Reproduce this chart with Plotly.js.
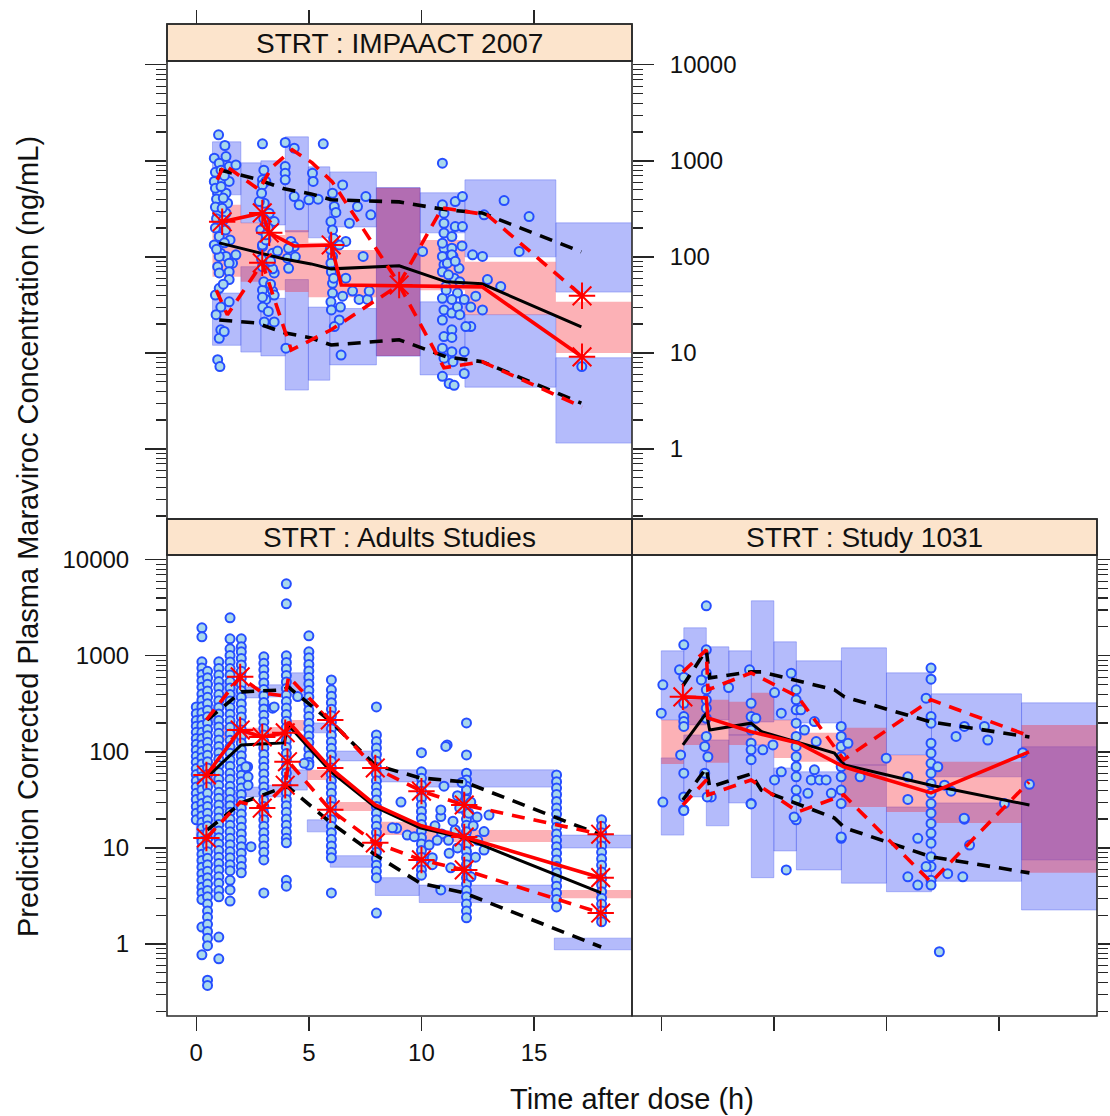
<!DOCTYPE html>
<html><head><meta charset="utf-8">
<script src="https://cdn.plot.ly/plotly-3.0.1.min.js"></script>
<style>body{margin:0;background:#fff}</style>
</head><body>
<div id="chart" style="width:1110px;height:1116px"></div>
<script>
// ---------------- Panel 1: STRT : IMPAACT 2007 ----------------
const impBinStart = [0.72, 1.98, 2.87, 3.95, 4.98, 5.93, 8.0, 9.94, 11.93, 15.97];
const impBinEnd   = [1.98, 2.87, 3.95, 4.98, 5.93, 8.0, 9.94, 11.93, 15.97, 19.4];
const impP95Lo = [443, 226, 215, 182, 158, 205, 9.3, 178, 100, 43];
const impP95Hi = [1578, 953, 1000, 1778, 866, 767, 524, 465, 634, 226];
const impMedLo = [62, 55, 45, 43, 38, 38, 9.3, 45, 25, 10];
const impMedHi = [348, 226, 169, 191, 140, 118, 524, 150, 89, 34];
const impP5Lo  = [12, 10.2, 9.3, 4.1, 5.2, 7.5, 9.3, 5.9, 4.4, 1.15];
const impP5Hi  = [42, 79, 37, 58, 30, 29, 524, 34, 25, 8.9];

const impSimX   = [1.02, 2.66, 3.91, 5.10, 5.99, 9.01, 11.1, 12.69, 17.1];
const impSimMed = [140, 113, 95, 84.5, 75, 80.6, 55, 52.4, 18.7];
const impSimP95 = [806, 649, 511, 453, 393, 374, 309, 287, 113];
const impSimP5  = [22, 20.5, 16.2, 14.3, 12.1, 13.7, 9.1, 8.1, 3.0];

const impObsMedX = [1.15, 2.93, 3.24, 4.35, 5.99, 6.44, 12.69, 17.13];
const impObsMed  = [232, 287, 178, 130, 133, 51, 48.7, 9.1];
const impObsP95X = [0.93, 1.24, 2.8, 3.33, 4.26, 5.15, 6.04, 9.01, 10.92, 12.92, 17.13];
const impObsP95  = [634, 908, 499, 845, 1303, 953, 604, 52.4, 324, 274, 39.3];
const impObsP5X  = [0.89, 1.38, 2.93, 4.22, 5.99, 9.01, 11.0, 12.69, 17.13];
const impObsP5   = [45, 24.9, 86.6, 10.7, 17.4, 51, 7.0, 8.1, 2.74];
const impStarX = [1.15, 2.93, 3.24, 5.99, 2.93, 9.01, 17.13, 17.13];
const impStarY = [232, 287, 178, 133, 86.6, 51, 39.3, 9.1];

const impX = [0.99,1.27,0.80,1.32,1.02,1.46,1.76,0.80,1.17,1.46,
  0.95,1.32,1.02,1.39,0.95,1.32,0.80,1.02,1.09,1.32,
  1.76,1.61,1.02,0.95,1.46,1.02,1.46,1.46,1.02,1.09,
  1.46,1.09,1.02,0.95,1.05,1.24,0.85,1.10,1.25,0.85,
  1.10,0.90,1.20,0.85,1.15,0.90,1.20,0.85,1.30,1.50,
  0.90,1.25,0.85,1.20,0.88,
  2.94,2.94,3.09,2.94,3.02,2.80,3.24,3.46,2.87,2.94,
  3.39,2.94,3.09,3.61,2.94,3.46,3.39,2.94,3.39,3.09,
  2.94,3.46,3.02,3.46,3.98,3.00,3.20,3.10,2.90,3.30,
  3.00,3.30,2.95,3.20,2.90,3.00,
  3.95,4.35,3.95,3.95,3.95,4.35,4.57,4.20,4.35,4.05,4.40,4.10,4.10,
  5.16,5.19,5.00,5.41,
  5.64,6.05,6.13,5.98,6.05,6.50,6.80,6.64,6.35,6.05,
  5.98,6.05,6.05,5.98,6.35,6.13,6.43,6.50,6.64,6.94,
  7.23,7.60,7.68,7.16,7.53,7.75,7.41,5.95,6.00,6.10,
  6.00,6.40,6.10,6.20,10.05,
  10.93,10.93,11.00,11.50,11.82,11.00,11.50,11.82,11.00,11.35,
  11.00,11.35,10.93,11.40,11.00,10.93,11.35,11.15,11.67,10.93,
  11.45,11.08,11.60,10.93,11.35,11.90,11.00,11.35,10.93,11.35,
  11.00,11.35,10.93,11.35,11.00,11.40,10.93,11.23,11.45,11.90,
  11.90,12.19,12.41,12.19,11.97,12.71,12.93,13.52,11.70,11.60,
  11.20,11.70,11.10,11.50,11.80,12.27,12.71,12.78,13.67,14.78,
  14.34,17.12];
const impY = [1866,1445,1067,1109,946,873,908,610,610,610,
  460,460,362,362,285,285,133,163,109,101,
  105,86,101,79,86,68,70,58,47,30,
  34,17.4,14.2,8.5,7.2,16.7,760,800,700,520,
  540,400,410,330,320,250,240,200,190,150,
  120,140,40,52,25,
  1503,634,610,562,362,377,285,233,191,128,
  109,133,150,115,79,68,75,45,44,36,
  38,40,21,21,11.2,250,200,170,95,90,
  55,52,30,27,460,800,
  1553,1355,873,745,634,425,348,145,128,97,100,123,76,
  745,610,393,399,
  1503,460,334,233,191,562,224,145,133,101,
  86,53,42,34,22,18.8,9.5,39,60,44,
  36,36,44,334,425,274,101,120,70,60,
  28,30,155,290,114,
  946,348,285,377,425,224,207,207,177,163,
  123,123,101,101,83,139,105,86,76,70,
  60,49,42,37,36,36,28,26,22,17.4,
  14.8,14.5,11.2,10.3,8.8,8.1,5.7,4.8,4.6,10.3,
  6.1,30,39,18.8,18.8,28,58,49,55,30,
  65,25,45,90,130,105,101,274,386,263,
  114,7.2];

// ---------------- Panel 2: STRT : Adults Studies ----------------
const adBinStart = [0, 1.0, 2.0, 2.93, 3.95, 4.93, 5.95, 7.95, 9.9, 15.9];
const adBinEnd   = [1.0, 2.0, 2.93, 3.95, 4.93, 5.95, 7.95, 9.9, 15.9, 19.4];
const adP95Lo = [191, 348, 365, 374, 393, 158, 80.6, 48.7, 43, 10];
const adP95Hi = [309, 562, 475, 499, 665, 200, 102, 65, 65, 13.6];
const adMedLo = [45, 133, 143, 143, 166, 51, 24.3, 13.6, 11.5, 3.0];
const adMedHi = [73, 191, 178, 182, 215, 65, 30, 18.7, 15.4, 3.65];
const adP5Lo  = [12.1, 24.9, 34, 34, 40, 14.7, 6.3, 3.2, 2.7, 0.87];
const adP5Hi  = [19.6, 40, 43, 45, 65, 19.6, 8.3, 4.9, 4.1, 1.15];

const adSimX   = [0.49, 2.0, 3.91, 4.08, 5.99, 7.94, 9.94, 11.9, 17.98];
const adSimMed = [55, 118, 124, 191, 62, 26.7, 16.2, 12.7, 3.4];
const adSimP95 = [215, 422, 443, 475, 205, 73, 53.6, 48.7, 13.6];
const adSimP5  = [15.4, 29.4, 43, 43, 18.2, 8.5, 4.3, 3.4, 0.93];

const adObsX   = [0.45, 1.95, 2.93, 3.95, 4.1, 5.95, 7.95, 10.0, 11.9, 17.96];
const adObsMed = [57.5, 169, 143, 158, 205, 68, 28, 17, 13, 4.9];
const adObsP95 = [215, 604, 412, 380, 604, 215, 68, 39, 28, 13.9];
const adObsP5  = [12.7, 30, 26, 45, 79, 25, 11.3, 7.5, 5.9, 2.1];
const adStarX = [0.45,1.95,2.93,3.95,5.95,11.9,17.96, 1.95,5.95,7.95,10.0,11.9,17.96, 0.45,2.93,3.95,4.05,5.95,7.95,10.0,11.9,17.96];
const adStarY = [57.5,169,143,158,68,13,4.9, 604,215,68,39,28,13.9, 12.7,26,45,79,25,11.3,7.5,5.9,2.1];

const adTimes = [0, 0.25, 0.5, 1, 1.5, 2, 3, 4, 5, 6, 8, 10, 12, 16, 18];
const adT0   = [294,250,212,185,160,138,120,104,90,78,67,58,50,43,37,32,27,23,19.6];
const adT025 = [1958,1578,866,745,640,550,470,400,345,295,255,218,188,160,138,118,101,87,75,64,55,47,40,34,29,25,21.5,18.5,16,13.6,11.7,10,8.6,7.4,6.3,5.4,4.6,3.9,3.4,2.9,1.5,0.77];
const adT05  = [690,590,505,430,370,318,272,232,200,171,147,126,108,92,79,68,58,50,43,37,31,27,23,19.7,16.9,14.5,12.4,10.6,9.1,7.8,6.7,5.7,4.9,4.2,3.6,3.1,2.6,2.2,1.9,1.6,1.35,1.15,0.96,0.42,0.37];
const adT1   = [866,740,630,540,465,395,340,290,248,212,182,156,133,114,98,84,72,61,52,45,38,33,28,24,20.5,17.5,15,12.8,11,9.4,8,6.9,5.9,5.0,4.3,3.6,3.1,1.18,0.7];
const adT15  = [2490,1503,1183,1010,865,740,632,540,462,395,338,289,247,211,180,154,132,113,97,83,71,60,52,44,38,32,27.5,23.5,20,17.2,14.7,12.6,10.8,9.2,7.9,6.7,5.8,4.6,3.65,2.8];
const adT2   = [1503,1241,1101,940,805,690,590,505,432,370,316,270,231,198,169,145,124,106,91,78,66,57,49,42,36,30.5,26,22.5,19.2,16.4,14,12,10.3,8.8,7.5,6.4,5.5];
const adT3   = [977,835,715,612,523,447,383,327,280,240,205,175,150,128,110,94,80,69,59,50,43,37,31.5,27,23,19.7,16.8,14.4,12.3,10.5,9,7.5,3.4];
const adT4   = [5623,3481,1000,855,730,625,535,457,391,334,286,245,209,179,153,131,112,96,82,70,60,51,44,37.5,32,27.5,23.5,20,17.2,14.7,12.6,11.3,4.6,4.0];
const adT5   = [1616,1101,954,815,697,596,510,436,373,319,272,233,199,170,146,125,107,91,78,73];
const adT6   = [562,443,380,325,278,238,203,174,149,127,109,93,80,68,58,50,43,37,31.5,27,23,19.7,16.8,14.4,12.3,10.5,9,7.9,3.4];
const adT8   = [294,150,128,110,94,80,69,59,50,43,37,31.5,27,23,19.7,16.8,14.4,12.3,10.5,9,7.7,6.6,5.7,4.9,2.1];
const adT10  = [98,62,53,45,39,33,28,24,20.5,17.5,15,12.8,11,9.4,8,6.9,5.9,5.2];
const adT12  = [200,93,60,51,44,37.5,32,27.5,23.5,20,17.2,14.7,12.6,10.8,9.2,7.9,6.7,5.8,4.9,4.2,3.6,3.1,2.6,2.2,1.87];
const adT16  = [57.5,49,42,36,30.5,26,22.5,19.2,16.4,14,12,10.3,8.8,7.5,6.4,5.5,4.7,4.0,3.4,2.9,2.43];
const adT18  = [19.6,16.8,14.4,12.3,10.5,9,7.7,6.6,5.6,4.8,4.1,3.5,3.0,2.6,2.2,1.9,1.7];
const adSX = [9.09,8.9,9.37,9.68,10.34,10.48,10.86,10.86,11.14,11.0,10.86,11.23,11.5,12.47,12.78,13.0,12.78,12.19,8.71,10.48,4.5,4.79,3.39,2.28,2.43,2.2,3.46,11.08,10.6,10.9,11.2,11.4,11.6,11.7,12.3,12.5,12.4,11.3,12.2,10.7,2.3,2.3,11.6,12.0,11.8,12.1];
const adSY = [30,16,13.6,13.1,10.7,7.9,21.2,24.9,118,44,3.65,8.8,15.4,21,14.8,22,9.5,30,16.2,6.7,377,76,285,70,10.3,70,294,114,17,14,12,19,10,26,17,12,8,6.2,5,12,55,45,35,40,48,23];

// ---------------- Panel 3: STRT : Study 1031 ----------------
const stBinStart = [0, 1, 2, 3, 4, 5, 6, 8, 10, 12, 16];
const stBinEnd   = [1, 2, 3, 4, 5, 6, 8, 10, 12, 16, 19.4];
const stP95Lo = [215, 191, 215, 150, 205, 215, 200, 73, 93, 55, 7.5];
const stP95Hi = [1127, 1958, 1241, 1127, 3741, 1399, 887, 1211, 665, 402, 324];
const stMedLo = [75, 118, 77, 118, 118, 86.6, 79, 26.7, 23.7, 18.2, 5.5];
const stMedHi = [215, 348, 348, 332, 412, 215, 158, 178, 93, 79, 191];
const stP5Lo  = [13.6, 34, 17, 29.4, 4.9, 9.3, 5.9, 4.3, 3.5, 4.5, 2.26];
const stP5Hi  = [86.6, 150, 133, 150, 118, 68, 62, 73, 26.7, 29.4, 113];

const stSimX   = [0.96, 2.0, 2.15, 3.99, 4.44, 7.69, 8.14, 11.98, 16.35];
const stSimMed = [118, 253, 169, 199, 163, 97, 73, 45, 28];
const stSimP95 = [487, 1155, 590, 681, 681, 443, 374, 205, 143];
const stSimP5  = [31.6, 68, 43, 59, 40, 20.5, 16.2, 8.1, 5.5];

const stObsX   = [0.96, 2.0, 2.07, 3.99, 6.07, 8.1, 11.98, 16.33];
const stObsMed = [374, 365, 226, 162, 124, 70, 37.4, 100];
const stObsP95 = [681, 1155, 443, 665, 374, 83, 348, 147];
const stObsP5  = [28, 51, 35.6, 51, 23.7, 35.6, 4.4, 48.7];
const stStarX = [0.96];
const stStarY = [374];

const stX = [0.07,0,0.07,1.0,0.81,1.0,1.0,1.0,1.0,1.0,
  0.86,1.0,1.0,1.0,2.0,2.0,2.0,1.78,2.0,2.0,
  2.0,2.0,2.0,1.93,2.07,1.93,2.22,2.04,2.99,3.92,
  3.99,3.99,4.2,3.99,3.99,3.99,3.99,3.99,4.51,4.96,
  5.03,5.33,5.33,5.03,5.55,5.77,5.99,5.99,5.99,5.99,
  5.99,5.99,5.99,5.99,5.99,5.99,5.99,5.99,5.9,6.2,
  6.36,6.8,6.88,6.66,7.03,7.32,6.51,7.55,6.8,7.99,
  7.99,7.99,7.99,7.99,7.99,7.99,7.99,7.99,8.29,8.83,
  9.99,10.95,10.95,11.39,10.95,11.39,11.76,11.98,11.98,11.98,
  11.98,11.98,11.98,11.98,11.98,11.98,11.98,11.98,11.98,11.98,
  11.98,11.98,11.98,11.98,11.98,11.98,11.76,12.28,12.58,12.87,
  13.09,13.46,13.46,13.69,14.35,14.5,15.24,16.05,16.35,12.72,
  13.39,12.35,13.45,7.99,1.0,3.99];
const stY = [499,253,30,1303,715,600,321,233,207,184,
  93,60,34,25,3319,1155,659,562,443,348,
  285,224,145,114,89,60,34,34,468,715,
  321,233,224,169,123,105,83,29,105,118,
  415,253,62,51,5.9,659,443,348,274,199,
  145,114,89,70,55,40,32,19.6,21,274,
  169,207,128,51,51,51,37,37,65,184,
  145,114,89,70,55,40,29,12.6,123,55,
  86,55,32,12.6,5.0,4.1,362,745,571,233,
  199,123,97,76,60,47,37,29,23,18,
  14.2,11.2,8.1,6.4,4.6,4.1,6.4,70,45,39,
  145,184,19.9,10.7,184,133,29,98,46,5.4,
  5.0,0.83,20.4,13,24.5,28.7];

// ---------------- Axis ticks ----------------
const majorVals = [1, 10, 100, 1000, 10000];
const majorText = ['1', '10', '100', '1000', '10000'];
const minorVals = [0.2,0.3,0.4,0.5,0.6,0.7,0.8,0.9,2,3,4,5,6,7,8,9,20,30,40,50,60,70,80,90,
  200,300,400,500,600,700,800,900,2000,3000,4000,5000,6000,7000,8000,9000];
const xTickVals = [0, 5, 10, 15];

// ---------------- Styles ----------------
const FONT = '"Liberation Sans", Arial, sans-serif';
const BLUE_FILL = 'rgba(88,104,246,0.45)';
const BLUE_EDGE = 'rgba(80,96,240,0.55)';
const PINK_FILL = 'rgba(246,40,52,0.36)';

function boxes(xa, ya, s, e, lo, hi, fill, edge, w) {
  const X = [], Y = [];
  for (let i = 0; i < s.length; i++) {
    X.push(s[i], e[i], e[i], s[i], s[i], null);
    Y.push(lo[i], lo[i], hi[i], hi[i], lo[i], null);
  }
  return {type:'scatter', mode:'lines', x:X, y:Y, xaxis:xa, yaxis:ya, fill:'toself',
    fillcolor:fill, line:{color:edge, width:w}, hoverinfo:'skip', showlegend:false};
}
function pts(xa, ya, x, y) {
  return {type:'scatter', mode:'markers', x:x, y:y, xaxis:xa, yaxis:ya, hoverinfo:'skip', showlegend:false,
    marker:{symbol:'circle', size:9, color:'rgb(168,216,236)', line:{color:'rgb(38,78,255)', width:2}}};
}
function ln(xa, ya, x, y, color, width, dash) {
  return {type:'scatter', mode:'lines', x:x, y:y, xaxis:xa, yaxis:ya, hoverinfo:'skip', showlegend:false,
    line:{color:color, width:width, dash:dash || 'solid'}};
}
function stars(xa, ya, x, y) {
  return {type:'scatter', mode:'markers', x:x, y:y, xaxis:xa, yaxis:ya, hoverinfo:'skip', showlegend:false,
    marker:{symbol:'asterisk-open', size:22, color:'red', line:{color:'red', width:2}}};
}
function panel(xa, ya, b, simX, simMed, simP95, simP5, obsLines, sx, sy, px, py) {
  const t = [];
  t.push(boxes(xa, ya, b.s, b.e, b.p95lo, b.p95hi, BLUE_FILL, BLUE_EDGE, 0.7));
  t.push(boxes(xa, ya, b.s, b.e, b.p5lo, b.p5hi, BLUE_FILL, BLUE_EDGE, 0.7));
  t.push(boxes(xa, ya, b.s, b.e, b.mlo, b.mhi, PINK_FILL, 'rgba(0,0,0,0)', 0));
  t.push(pts(xa, ya, px, py));
  const DASH = '13px,9px';
  t.push(ln(xa, ya, simX, simP95, 'black', 3.6, DASH));
  t.push(ln(xa, ya, simX, simP5, 'black', 3.6, DASH));
  t.push(ln(xa, ya, simX, simMed, 'black', 3));
  t.push(ln(xa, ya, obsLines.p95x, obsLines.p95, 'red', 3.6, DASH));
  t.push(ln(xa, ya, obsLines.p5x, obsLines.p5, 'red', 3.6, DASH));
  t.push(ln(xa, ya, obsLines.medx, obsLines.med, 'red', 3.6));
  t.push(stars(xa, ya, sx, sy));
  return t;
}

// adult points from columns
const adCols = [adT0, adT025, adT05, adT1, adT15, adT2, adT3, adT4, adT5, adT6, adT8, adT10, adT12, adT16, adT18];
const adPX = [], adPY = [];
adCols.forEach((col, i) => col.forEach(v => { adPX.push(adTimes[i]); adPY.push(v); }));
adSX.forEach((v, i) => { adPX.push(v); adPY.push(adSY[i]); });

const traces = [].concat(
  panel('x', 'y',
    {s:impBinStart, e:impBinEnd, p95lo:impP95Lo, p95hi:impP95Hi, p5lo:impP5Lo, p5hi:impP5Hi, mlo:impMedLo, mhi:impMedHi},
    impSimX, impSimMed, impSimP95, impSimP5,
    {medx:impObsMedX, med:impObsMed, p95x:impObsP95X, p95:impObsP95, p5x:impObsP5X, p5:impObsP5},
    impStarX, impStarY, impX, impY),
  panel('x2', 'y2',
    {s:adBinStart, e:adBinEnd, p95lo:adP95Lo, p95hi:adP95Hi, p5lo:adP5Lo, p5hi:adP5Hi, mlo:adMedLo, mhi:adMedHi},
    adSimX, adSimMed, adSimP95, adSimP5,
    {medx:adObsX, med:adObsMed, p95x:adObsX, p95:adObsP95, p5x:adObsX, p5:adObsP5},
    adStarX, adStarY, adPX, adPY),
  panel('x3', 'y3',
    {s:stBinStart, e:stBinEnd, p95lo:stP95Lo, p95hi:stP95Hi, p5lo:stP5Lo, p5hi:stP5Hi, mlo:stMedLo, mhi:stMedHi},
    stSimX, stSimMed, stSimP95, stSimP5,
    {medx:stObsX, med:stObsMed, p95x:stObsX, p95:stObsP95, p5x:stObsX, p5:stObsP5},
    stStarX, stStarY, stX, stY)
);

// ---------------- Layout ----------------
const W = 1110, H = 1116;
const fx = v => v / W, fy = v => 1 - v / H;
const TICKC = '#262626';
const tickFont = {family: FONT, size: 24, color: '#111'};

const yBase = {type:'log', tickmode:'array', tickvals:majorVals, ticktext:majorText, ticks:'outside',
  ticklen:21, tickwidth:1.3, tickcolor:TICKC, showgrid:false, zeroline:false, showline:false,
  tickfont:tickFont, ticklabelstandoff:11,
  minor:{tickmode:'array', tickvals:minorVals, ticks:'outside', ticklen:10, tickwidth:1.1, tickcolor:TICKC, showgrid:false}};
const xBase = {range:[-1.3, 19.35], tickmode:'array', tickvals:xTickVals, ticks:'outside', ticklen:14,
  tickwidth:1.3, tickcolor:TICKC, showgrid:false, zeroline:false, showline:false, tickfont:tickFont};

const LEFT = [fx(167), fx(632)], RIGHT = [fx(632), fx(1097)];
const TOPY = [fy(519), fy(61)], BOTY = [fy(1016), fy(555)];

const frame = (x0, y0, x1, y1, fill) => ({type:'rect', xref:'paper', yref:'paper',
  x0:fx(x0), x1:fx(x1), y0:fy(y1), y1:fy(y0), fillcolor:fill || 'rgba(0,0,0,0)',
  line:{color:'#2a2a2a', width:1.6}, layer: fill ? 'below' : 'above'});
const STRIP = '#FCE4CC';

const layout = {
  width: W, height: H, margin:{l:0, r:0, t:0, b:0}, paper_bgcolor:'white', plot_bgcolor:'rgba(0,0,0,0)',
  showlegend:false, font:{family:FONT, color:'#111'},
  xaxis: Object.assign({}, xBase, {domain:LEFT, anchor:'free', position:fy(24), side:'top', showticklabels:false}),
  yaxis: Object.assign({}, yBase, {domain:TOPY, range:[-0.73, 4.04], anchor:'x', side:'right', mirror:'ticks', showticklabels:true}),
  xaxis2: Object.assign({}, xBase, {domain:LEFT, anchor:'y2', side:'bottom', showticklabels:true, ticklabelstandoff:1}),
  yaxis2: Object.assign({}, yBase, {domain:BOTY, range:[-0.75, 4.05], anchor:'x2', side:'left', showticklabels:true}),
  xaxis3: Object.assign({}, xBase, {domain:RIGHT, anchor:'y3', side:'bottom', showticklabels:false}),
  yaxis3: Object.assign({}, yBase, {domain:BOTY, range:[-0.75, 4.05], anchor:'x3', side:'right', showticklabels:false}),
  shapes: [
    frame(167, 24, 632, 61, STRIP),
    frame(167, 519, 632, 555, STRIP),
    frame(632, 519, 1097, 555, STRIP),
    frame(167, 24, 632, 61),
    frame(167, 61, 632, 519),
    frame(167, 519, 632, 555),
    frame(632, 519, 1097, 555),
    frame(167, 555, 632, 1016),
    frame(632, 555, 1097, 1016)
  ],
  annotations: [
    {text:'STRT : IMPAACT 2007', x:fx(399.5), y:fy(43), xref:'paper', yref:'paper', showarrow:false,
      xanchor:'center', yanchor:'middle', font:{family:FONT, size:28, color:'#111'}},
    {text:'STRT : Adults Studies', x:fx(399.5), y:fy(538), xref:'paper', yref:'paper', showarrow:false,
      xanchor:'center', yanchor:'middle', font:{family:FONT, size:28, color:'#111'}},
    {text:'STRT : Study 1031', x:fx(864.5), y:fy(538), xref:'paper', yref:'paper', showarrow:false,
      xanchor:'center', yanchor:'middle', font:{family:FONT, size:28, color:'#111'}},
    {text:'Time after dose (h)', x:fx(632), y:fy(1099), xref:'paper', yref:'paper', showarrow:false,
      xanchor:'center', yanchor:'middle', font:{family:FONT, size:29, color:'#111'}},
    {text:'Prediction Corrected Plasma Maraviroc Concentration (ng/mL)', x:fx(28), y:fy(537),
      xref:'paper', yref:'paper', showarrow:false, textangle:-90, xanchor:'center', yanchor:'middle',
      font:{family:FONT, size:29, color:'#111'}}
  ]
};

Plotly.newPlot('chart', traces, layout, {displayModeBar:false, staticPlot:true});
</script>
</body></html>
